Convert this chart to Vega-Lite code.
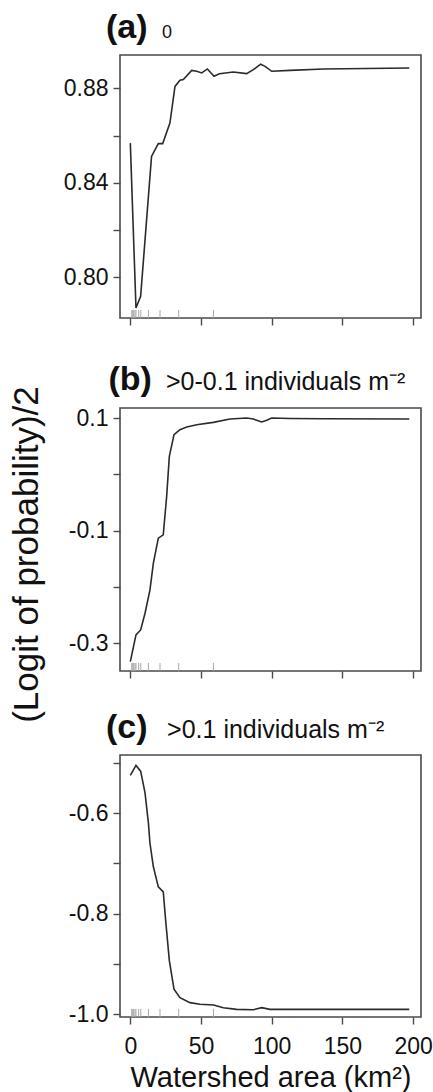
{
  "$schema": "https://vega.github.io/schema/vega-lite/v6.json",
  "padding": {"left": 8, "top": 10, "right": 0, "bottom": 0},
  "background": "white",
  "spacing": 90,
  "bounds": "flush",
  "config": {
    "font": "Liberation Sans",
    "view": {"stroke": "#4a4a4a", "strokeWidth": 1.6},
    "axis": {"grid": false, "domain": false, "tickColor": "#4a4a4a", "tickWidth": 1.4, "tickSize": 7, "labelFont": "Liberation Sans", "labelFontSize": 23, "labelColor": "#111", "labelPadding": 5, "titleFont": "Liberation Sans", "titleFontWeight": "normal", "titleColor": "#111"},
    "text": {"font": "Liberation Sans", "color": "#111", "align": "left", "baseline": "alphabetic"}
  },
  "datasets": {
    "curves": [
      {"panel": "a", "area": 0, "logit": 0.8568},
      {"panel": "a", "area": 4.0, "logit": 0.787},
      {"panel": "a", "area": 7.3, "logit": 0.792},
      {"panel": "a", "area": 15.0, "logit": 0.8512},
      {"panel": "a", "area": 19.8, "logit": 0.8566},
      {"panel": "a", "area": 22.9, "logit": 0.8566},
      {"panel": "a", "area": 28.0, "logit": 0.8653},
      {"panel": "a", "area": 31.6, "logit": 0.8808},
      {"panel": "a", "area": 35.1, "logit": 0.8834},
      {"panel": "a", "area": 37.5, "logit": 0.8837},
      {"panel": "a", "area": 43.4, "logit": 0.8876},
      {"panel": "a", "area": 47.0, "logit": 0.8872},
      {"panel": "a", "area": 50.5, "logit": 0.8865},
      {"panel": "a", "area": 54.5, "logit": 0.8882},
      {"panel": "a", "area": 59.2, "logit": 0.8851},
      {"panel": "a", "area": 63.0, "logit": 0.8862},
      {"panel": "a", "area": 72.8, "logit": 0.8869},
      {"panel": "a", "area": 82.3, "logit": 0.8862},
      {"panel": "a", "area": 87.0, "logit": 0.8879},
      {"panel": "a", "area": 92.2, "logit": 0.8902},
      {"panel": "a", "area": 95.3, "logit": 0.8893},
      {"panel": "a", "area": 100.0, "logit": 0.8872},
      {"panel": "a", "area": 113.0, "logit": 0.8876},
      {"panel": "a", "area": 136.6, "logit": 0.8882},
      {"panel": "a", "area": 197.3, "logit": 0.8886},
      {"panel": "b", "area": 0, "logit": -0.3326},
      {"panel": "b", "area": 4.0, "logit": -0.2852},
      {"panel": "b", "area": 7.3, "logit": -0.2763},
      {"panel": "b", "area": 10.4, "logit": -0.2467},
      {"panel": "b", "area": 13.9, "logit": -0.2052},
      {"panel": "b", "area": 16.3, "logit": -0.1578},
      {"panel": "b", "area": 19.8, "logit": -0.1133},
      {"panel": "b", "area": 23.3, "logit": -0.1074},
      {"panel": "b", "area": 25.7, "logit": -0.0392},
      {"panel": "b", "area": 27.6, "logit": 0.0319},
      {"panel": "b", "area": 30.9, "logit": 0.0704},
      {"panel": "b", "area": 35.1, "logit": 0.0793},
      {"panel": "b", "area": 39.9, "logit": 0.084},
      {"panel": "b", "area": 47.0, "logit": 0.0881},
      {"panel": "b", "area": 58.7, "logit": 0.0923},
      {"panel": "b", "area": 70.5, "logit": 0.0982},
      {"panel": "b", "area": 82.3, "logit": 0.1},
      {"panel": "b", "area": 87.0, "logit": 0.0982},
      {"panel": "b", "area": 92.9, "logit": 0.0929},
      {"panel": "b", "area": 96.5, "logit": 0.0959},
      {"panel": "b", "area": 100.0, "logit": 0.1},
      {"panel": "b", "area": 113.0, "logit": 0.0992},
      {"panel": "b", "area": 136.5, "logit": 0.0988},
      {"panel": "b", "area": 197.3, "logit": 0.0982},
      {"panel": "c", "area": 0, "logit": -0.5253},
      {"panel": "c", "area": 4.0, "logit": -0.5053},
      {"panel": "c", "area": 7.3, "logit": -0.5167},
      {"panel": "c", "area": 10.4, "logit": -0.56},
      {"panel": "c", "area": 12.8, "logit": -0.62},
      {"panel": "c", "area": 13.9, "logit": -0.66},
      {"panel": "c", "area": 16.3, "logit": -0.7067},
      {"panel": "c", "area": 19.8, "logit": -0.7467},
      {"panel": "c", "area": 23.3, "logit": -0.7567},
      {"panel": "c", "area": 25.2, "logit": -0.82},
      {"panel": "c", "area": 27.6, "logit": -0.8933},
      {"panel": "c", "area": 30.9, "logit": -0.95},
      {"panel": "c", "area": 35.1, "logit": -0.9667},
      {"panel": "c", "area": 42.2, "logit": -0.9767},
      {"panel": "c", "area": 49.3, "logit": -0.98},
      {"panel": "c", "area": 58.9, "logit": -0.9813},
      {"panel": "c", "area": 65.8, "logit": -0.9867},
      {"panel": "c", "area": 75.2, "logit": -0.99},
      {"panel": "c", "area": 87.0, "logit": -0.9907},
      {"panel": "c", "area": 92.9, "logit": -0.9867},
      {"panel": "c", "area": 98.8, "logit": -0.99},
      {"panel": "c", "area": 197.3, "logit": -0.99}
    ],
    "rug": [
      {"area": 1.0}, {"area": 1.7}, {"area": 2.4}, {"area": 3.3}, {"area": 4.0}, {"area": 5.9},
      {"area": 7.4}, {"area": 12.8}, {"area": 21.0}, {"area": 34.2}, {"area": 58.8}
    ]
  },
  "vconcat": [
    {
      "width": 301, "height": 263,
      "layer": [
        {
          "data": {"name": "curves"},
          "transform": [{"filter": "datum.panel == 'a'"}],
          "mark": {"type": "line", "color": "#2b2b2b", "strokeWidth": 1.6},
          "encoding": {
            "x": {"field": "area", "type": "quantitative", "scale": {"domain": [-7.3, 205.6], "nice": false, "zero": false}, "axis": {"values": [0, 50, 100, 150, 200], "labels": false, "title": null}},
            "y": {"field": "logit", "type": "quantitative", "scale": {"domain": [0.7828, 0.8941], "nice": false, "zero": false}, "axis": {"values": [0.80, 0.82, 0.84, 0.86, 0.88], "labelExpr": "round(datum.value*100) == 80 ? '0.80' : round(datum.value*100) == 84 ? '0.84' : round(datum.value*100) == 88 ? '0.88' : ''", "title": null}}
          }
        },
        {
          "data": {"name": "rug"},
          "mark": {"type": "rule", "color": "#a8a8a8", "strokeWidth": 1},
          "encoding": {
            "x": {"field": "area", "type": "quantitative"},
            "y": {"datum": 0.7828, "type": "quantitative"},
            "y2": {"datum": 0.7862}
          }
        },
        {
          "data": {"values": [{"label": "(a)"}]},
          "mark": {"type": "text", "fontSize": 34, "fontWeight": "bold"},
          "encoding": {
            "text": {"field": "label"},
            "x": {"datum": -17.2, "type": "quantitative"},
            "y": {"datum": 0.9013, "type": "quantitative"}
          }
        },
        {
          "data": {"values": [{"label": "0"}]},
          "mark": {"type": "text", "fontSize": 18},
          "encoding": {
            "text": {"field": "label"},
            "x": {"datum": 22.4, "type": "quantitative"},
            "y": {"datum": 0.9013, "type": "quantitative"}
          }
        }
      ]
    },
    {
      "spacing": 84,
      "bounds": "flush",
      "vconcat": [
        {
          "width": 301, "height": 263,
          "layer": [
            {
              "data": {"name": "curves"},
              "transform": [{"filter": "datum.panel == 'b'"}],
              "mark": {"type": "line", "color": "#2b2b2b", "strokeWidth": 1.6},
              "encoding": {
                "x": {"field": "area", "type": "quantitative", "scale": {"domain": [-7.3, 205.6], "nice": false, "zero": false}, "axis": {"values": [0, 50, 100, 150, 200], "labels": false, "title": null}},
                "y": {"field": "logit", "type": "quantitative", "scale": {"domain": [-0.3492, 0.1178], "nice": false, "zero": false}, "axis": {"values": [-0.3, -0.2, -0.1, 0, 0.1], "labelExpr": "round(datum.value*10) == -3 ? '-0.3' : round(datum.value*10) == -1 ? '-0.1' : round(datum.value*10) == 1 ? '0.1' : ''", "title": "(Logit of probability)/2", "titleFontSize": 35, "titlePadding": 24, "titleY": 146}}
              }
            },
            {
              "data": {"name": "rug"},
              "mark": {"type": "rule", "color": "#a8a8a8", "strokeWidth": 1},
              "encoding": {
                "x": {"field": "area", "type": "quantitative"},
                "y": {"datum": -0.3492, "type": "quantitative"},
                "y2": {"datum": -0.335}
              }
            },
            {
              "data": {"values": [{"label": "(b)"}]},
              "mark": {"type": "text", "fontSize": 34, "fontWeight": "bold"},
              "encoding": {
                "text": {"field": "label"},
                "x": {"datum": -15.5, "type": "quantitative"},
                "y": {"datum": 0.1489, "type": "quantitative"}
              }
            },
            {
              "data": {"values": [{"label": ">0-0.1 individuals m\u207b\u00b2"}]},
              "mark": {"type": "text", "fontSize": 25},
              "encoding": {
                "text": {"field": "label"},
                "x": {"datum": 25.2, "type": "quantitative"},
                "y": {"datum": 0.1489, "type": "quantitative"}
              }
            }
          ]
        },
        {
          "width": 301, "height": 262,
          "layer": [
            {
              "data": {"name": "curves"},
              "transform": [{"filter": "datum.panel == 'c'"}],
              "mark": {"type": "line", "color": "#2b2b2b", "strokeWidth": 1.6},
              "encoding": {
                "x": {"field": "area", "type": "quantitative", "scale": {"domain": [-7.3, 205.6], "nice": false, "zero": false}, "axis": {"values": [0, 50, 100, 150, 200], "labelPadding": 11, "title": "Watershed area (km\u00b2)", "titleFontSize": 29, "titlePadding": 5}},
                "y": {"field": "logit", "type": "quantitative", "scale": {"domain": [-1.0052, -0.4846], "nice": false, "zero": false}, "axis": {"values": [-1.0, -0.9, -0.8, -0.7, -0.6, -0.5], "labelExpr": "round(datum.value*10) == -10 ? '-1.0' : round(datum.value*10) == -8 ? '-0.8' : round(datum.value*10) == -6 ? '-0.6' : ''", "title": null}}
              }
            },
            {
              "data": {"name": "rug"},
              "mark": {"type": "rule", "color": "#a8a8a8", "strokeWidth": 1},
              "encoding": {
                "x": {"field": "area", "type": "quantitative"},
                "y": {"datum": -1.0052, "type": "quantitative"},
                "y2": {"datum": -0.9892}
              }
            },
            {
              "data": {"values": [{"label": "(c)"}]},
              "mark": {"type": "text", "fontSize": 34, "fontWeight": "bold"},
              "encoding": {
                "text": {"field": "label"},
                "x": {"datum": -17.2, "type": "quantitative"},
                "y": {"datum": -0.4506, "type": "quantitative"}
              }
            },
            {
              "data": {"values": [{"label": ">0.1 individuals m\u207b\u00b2"}]},
              "mark": {"type": "text", "fontSize": 25},
              "encoding": {
                "text": {"field": "label"},
                "x": {"datum": 26.0, "type": "quantitative"},
                "y": {"datum": -0.4506, "type": "quantitative"}
              }
            }
          ]
        }
      ]
    }
  ]
}
